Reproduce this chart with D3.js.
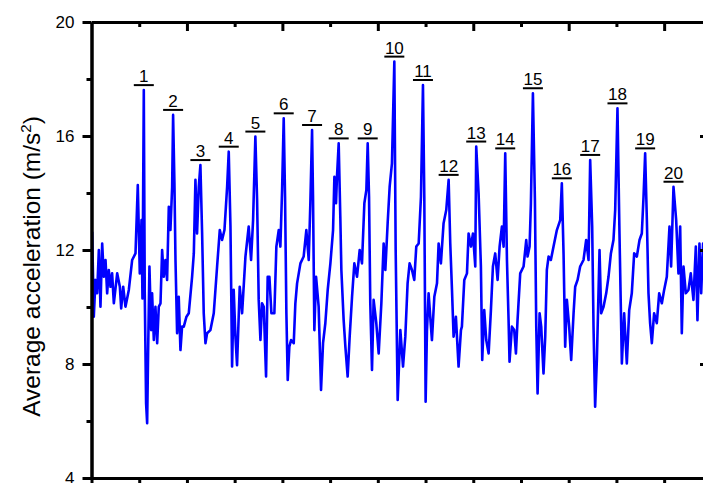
<!DOCTYPE html>
<html><head><meta charset="utf-8">
<script src="https://cdn.jsdelivr.net/npm/d3@7"></script>
<style>body{margin:0;background:#fff} svg{display:block;font-family:Arial,"Liberation Sans",sans-serif}</style>
</head><body>
<svg id="c" width="703" height="483"></svg>
<script>
// time (s), average acceleration (m/s^2)
const signal = [[0.07,12.64],[0.24,9.66],[0.42,10.95],[0.59,10.48],[0.77,12.0],[0.94,10.01],[1.12,12.23],[1.29,11.06],[1.47,11.65],[1.64,10.48],[1.81,11.30],[1.99,10.71],[2.16,11.18],[2.34,10.13],[2.69,11.18],[2.97,10.71],[3.11,9.95],[3.32,10.71],[3.56,10.01],[3.91,10.60],[4.26,11.65],[4.61,11.88],[4.85,14.28],[5.06,11.18],[5.24,13.05],[5.34,10.30],[5.48,17.61],[5.58,10.48],[5.72,6.62],[5.83,5.92],[5.93,8.37],[6.07,11.42],[6.25,9.19],[6.35,10.48],[6.53,8.84],[6.70,10.01],[6.88,8.73],[7.05,10.01],[7.23,10.13],[7.40,12.0],[7.57,11.06],[7.75,11.65],[7.92,10.95],[8.10,13.52],[8.27,12.70],[8.45,14.22],[8.55,16.74],[8.69,14.34],[8.80,11.65],[8.97,9.08],[9.14,10.36],[9.32,8.49],[9.49,9.31],[9.67,9.31],[9.95,9.66],[10.19,9.78],[10.54,11.06],[10.72,11.88],[10.89,14.46],[11.06,12.58],[11.24,14.22],[11.41,14.98],[11.59,12.58],[11.76,9.78],[11.94,8.73],[12.11,9.08],[12.46,9.19],[12.81,9.78],[13.16,11.42],[13.44,12.70],[13.68,12.35],[13.93,12.70],[14.21,14.22],[14.38,15.45],[14.56,12.82],[14.73,7.91],[14.90,10.60],[15.08,8.96],[15.25,7.96],[15.53,10.71],[15.78,9.78],[16.13,11.77],[16.47,12.82],[16.72,11.65],[16.93,13.05],[17.17,15.98],[17.35,13.75],[17.52,10.25],[17.70,8.84],[17.87,10.13],[18.05,10.01],[18.29,7.56],[18.46,11.06],[18.64,11.06],[18.85,9.78],[19.16,9.78],[19.37,12.12],[19.62,12.70],[19.79,12.12],[19.97,14.11],[20.14,16.62],[20.28,13.87],[20.42,9.78],[20.56,7.44],[20.73,8.61],[20.91,8.84],[21.19,8.73],[21.36,10.13],[21.54,10.83],[21.89,11.53],[22.23,11.77],[22.51,12.70],[22.76,11.65],[22.93,13.64],[23.11,16.21],[23.21,13.87],[23.35,9.19],[23.53,11.06],[23.80,10.01],[24.05,7.09],[24.26,8.73],[24.50,9.43],[24.75,10.60],[25.03,11.53],[25.31,12.70],[25.45,14.57],[25.62,13.64],[25.72,14.57],[25.90,15.74],[26.07,13.17],[26.18,11.30],[26.42,9.54],[26.60,8.61],[26.84,7.56],[27.05,8.96],[27.30,10.36],[27.54,11.53],[27.82,11.06],[28.10,12.0],[28.34,11.53],[28.59,13.64],[28.80,14.11],[28.94,15.74],[29.08,13.87],[29.21,10.13],[29.39,7.79],[29.56,10.25],[29.84,9.43],[30.09,8.37],[30.37,10.13],[30.61,12.23],[30.79,11.30],[31.03,12.94],[31.24,14.22],[31.48,15.04],[31.73,18.61],[31.87,12.0],[32.08,6.74],[32.36,9.19],[32.64,7.91],[32.88,8.96],[33.12,10.83],[33.33,11.53],[33.58,11.30],[33.82,10.95],[34.03,12.12],[34.28,12.23],[34.52,13.87],[34.73,17.79],[34.87,13.87],[35.01,6.68],[35.15,9.19],[35.32,10.48],[35.67,8.84],[35.92,10.36],[36.20,10.83],[36.37,12.23],[36.61,11.53],[36.89,12.94],[37.17,13.40],[37.42,14.46],[37.59,12.23],[37.77,10.60],[37.94,8.96],[38.18,9.66],[38.46,7.91],[38.71,9.19],[38.81,9.31],[39.06,10.95],[39.34,11.18],[39.51,12.58],[39.76,12.12],[39.97,12.58],[40.21,11.42],[40.31,15.63],[40.56,13.99],[40.80,11.42],[40.94,8.14],[41.15,9.89],[41.36,8.84],[41.61,8.37],[41.85,9.89],[42.06,11.42],[42.30,11.88],[42.55,10.95],[42.76,12.12],[43.00,12.82],[43.18,12.12],[43.35,15.39],[43.53,11.65],[43.70,9.54],[43.80,8.08],[44.05,9.31],[44.29,9.19],[44.47,8.37],[44.64,9.54],[44.92,11.18],[45.27,11.42],[45.55,12.35],[45.69,11.77],[45.90,12.12],[46.04,13.64],[46.25,17.50],[46.46,13.75],[46.60,9.31],[46.74,6.97],[46.95,9.78],[47.12,9.31],[47.36,7.67],[47.54,8.96],[47.71,11.30],[47.89,11.77],[48.13,11.65],[48.41,12.12],[48.76,12.70],[49.11,13.05],[49.28,14.34],[49.46,11.88],[49.63,8.61],[49.81,10.25],[50.05,9.31],[50.26,8.14],[50.51,9.78],[50.68,10.71],[50.93,10.95],[51.20,11.42],[51.55,11.65],[51.83,12.35],[52.08,11.65],[52.25,15.16],[52.46,12.82],[52.60,9.31],[52.77,6.50],[52.95,8.14],[53.23,12.0],[53.40,9.78],[53.65,10.01],[53.93,10.48],[54.17,11.06],[54.42,11.88],[54.69,12.35],[54.87,13.40],[55.11,16.97],[55.32,12.58],[55.57,8.02],[55.81,9.78],[56.09,8.02],[56.34,9.89],[56.61,10.48],[56.86,11.88],[57.14,11.77],[57.42,12.35],[57.66,12.58],[57.84,13.87],[58.01,15.39],[58.19,13.05],[58.36,10.48],[58.53,9.43],[58.71,8.73],[58.95,9.78],[59.23,9.43],[59.48,10.48],[59.76,10.13],[60.00,10.60],[60.28,11.06],[60.56,12.82],[60.73,11.42],[60.98,14.22],[61.26,13.05],[61.50,11.18],[61.68,12.82],[61.85,9.08],[62.03,11.42],[62.27,10.48],[62.55,10.60],[62.79,11.18],[63.07,10.25],[63.32,12.12],[63.49,9.54],[63.70,12.23],[63.88,10.48],[64.08,12.23],[64.40,11.20]];

const yMajorTicks = [4, 8, 12, 16, 20];
const yMinorTicks = [6, 10, 14, 18];
const xMajorTicks = [0, 10, 20, 30, 40, 50, 60];
const xMinorTicks = [5, 15, 25, 35, 45, 55];
const peakLabels = ["1","2","3","4","5","6","7","8","9","10","11","12","13","14","15","16","17","18","19","20"];
const peakTimes = [5.48, 8.55, 11.41, 14.38, 17.17, 20.14, 23.11, 25.90, 28.94, 31.73, 34.73, 37.42, 40.31, 43.35, 46.25, 49.28, 52.25, 55.11, 58.01, 60.98];
const yTitleMain = "Average acceleration (m/s";
const yTitleSup = "2";

const svg = d3.select("#c");
const X0 = 91.5, X1 = 709, Y0 = 478, Y1 = 22;
const x = d3.scaleLinear().domain([0, 64.7]).range([X0, X1]);
const y = d3.scaleLinear().domain([4, 20]).range([Y0, Y1]);

svg.append("defs").append("clipPath").attr("id", "clip")
  .append("rect").attr("x", X0).attr("y", Y1).attr("width", X1 - X0).attr("height", Y0 - Y1);

// signal line
const line = d3.line().x(d => x(d[0])).y(d => y(d[1]));
svg.append("path").datum(signal)
  .attr("clip-path", "url(#clip)")
  .attr("fill", "none").attr("stroke", "#0000ff").attr("stroke-width", 2.6)
  .attr("stroke-linejoin", "round")
  .attr("d", line);

function styleAxis(g) {
  g.selectAll("path.domain").attr("stroke", "#000").attr("stroke-width", 3);
  g.selectAll(".tick line").attr("stroke", "#000").attr("stroke-width", 3);
  g.selectAll(".tick text").attr("fill", "#000").style("font-size", "17px")
    .style("font-family", "Arial, 'Liberation Sans', sans-serif");
}

// left axis
svg.append("g").attr("transform", `translate(${X0},0)`)
  .call(d3.axisLeft(y).tickValues(yMinorTicks).tickSize(5).tickSizeOuter(0).tickFormat(""))
  .call(styleAxis);
svg.append("g").attr("transform", `translate(${X0},0)`)
  .call(d3.axisLeft(y).tickValues(yMajorTicks).tickSize(9).tickSizeOuter(0).tickPadding(8).tickFormat(d3.format("d")))
  .call(styleAxis);

// right axis (ticks inward)
svg.append("g").attr("transform", `translate(${X1},0)`)
  .call(d3.axisLeft(y).tickValues(yMajorTicks).tickSize(9).tickSizeOuter(0).tickFormat(""))
  .call(styleAxis);

// top axis (ticks inward)
svg.append("g").attr("transform", `translate(0,${Y1})`)
  .call(d3.axisBottom(x).tickValues(xMinorTicks).tickSize(5).tickSizeOuter(0).tickFormat(""))
  .call(styleAxis);
svg.append("g").attr("transform", `translate(0,${Y1})`)
  .call(d3.axisBottom(x).tickValues(xMajorTicks.slice(1)).tickSize(9).tickSizeOuter(0).tickFormat(""))
  .call(styleAxis);

// bottom axis (ticks outward)
svg.append("g").attr("transform", `translate(0,${Y0})`)
  .call(d3.axisBottom(x).tickValues(xMinorTicks).tickSize(5).tickSizeOuter(0).tickFormat(""))
  .call(styleAxis);
svg.append("g").attr("transform", `translate(0,${Y0})`)
  .call(d3.axisBottom(x).tickValues(xMajorTicks).tickSize(9).tickSizeOuter(0).tickFormat(""))
  .call(styleAxis);

// peak labels
const peaks = peakTimes.map((t, i) => {
  const near = signal.filter(d => Math.abs(d[0] - t) < 0.25);
  return { t, a: d3.max(near, d => d[1]), label: peakLabels[i] };
});
const pg = svg.append("g").selectAll("g").data(peaks).join("g")
  .attr("transform", d => `translate(${x(d.t)},${y(d.a) - 5})`);
pg.append("line").attr("x1", -10).attr("x2", 10).attr("stroke", "#000").attr("stroke-width", 2);
pg.append("text").attr("y", -3).attr("text-anchor", "middle")
  .style("font-size", "17px").attr("fill", "#000").text(d => d.label);

// y title
const title = svg.append("text")
  .attr("transform", "translate(39.5,266.5) rotate(-90)")
  .attr("text-anchor", "middle").style("font-size", "24.5px").attr("fill", "#000");
title.append("tspan").text(yTitleMain);
title.append("tspan").attr("dy", -9).style("font-size", "15px").text(yTitleSup);
title.append("tspan").attr("dy", 9).text(")");
</script>
</body></html>
